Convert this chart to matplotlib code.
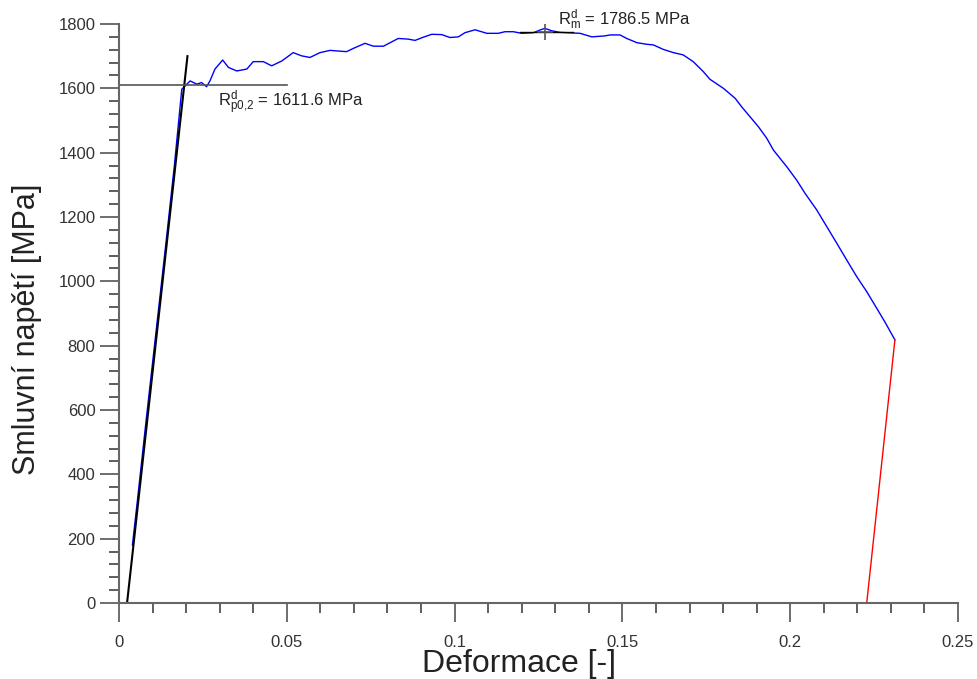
import numpy as np
import matplotlib.pyplot as plt
from matplotlib.ticker import MultipleLocator

plt.rcParams['font.family'] = ['Liberation Sans', 'DejaVu Sans']
plt.rcParams['mathtext.fontset'] = 'custom'
plt.rcParams['mathtext.rm'] = 'Liberation Sans'
plt.rcParams['mathtext.it'] = 'Liberation Sans'

# zkouska tahem - odectene hodnoty
eps = [0.0040, 0.0055, 0.0080, 0.0110, 0.0140, 0.0165, 0.0178, 0.0187,
       0.0212, 0.0232, 0.0246, 0.0261, 0.0271, 0.0286, 0.0309, 0.0326,
       0.0351, 0.0381, 0.0400, 0.0430, 0.0455, 0.0485, 0.0519, 0.0544,
       0.0569, 0.0599, 0.0629, 0.0653, 0.0678, 0.0698, 0.0733, 0.0758,
       0.0788, 0.0808, 0.0832, 0.0862, 0.0882, 0.0907, 0.0932, 0.0962,
       0.0986, 0.1011, 0.1031, 0.1061, 0.1096, 0.1130, 0.1150, 0.1175,
       0.1200, 0.1235, 0.1254, 0.1269, 0.1289, 0.1314, 0.1374, 0.1409,
       0.1448, 0.1463, 0.1493, 0.1513, 0.1543, 0.1572, 0.1592, 0.1622,
       0.1652, 0.1681, 0.1711, 0.1741, 0.1761, 0.1801, 0.1836, 0.1855,
       0.1880, 0.1905, 0.1930, 0.1950, 0.1990, 0.2019, 0.2044, 0.2079,
       0.2109, 0.2139, 0.2168, 0.2198, 0.2228, 0.2258, 0.2282, 0.2312]
sigma = [180, 320, 560, 840, 1120, 1360, 1500, 1597,
         1623, 1613, 1618, 1605, 1623, 1660, 1688, 1665,
         1654, 1660, 1683, 1683, 1670, 1685, 1711, 1701,
         1696, 1711, 1718, 1716, 1714, 1724, 1740, 1731,
         1731, 1742, 1755, 1753, 1749, 1759, 1768, 1767,
         1758, 1760, 1773, 1782, 1771, 1771, 1776, 1776,
         1771, 1773, 1781, 1786.5, 1779, 1774, 1771, 1760,
         1763, 1766, 1766, 1755, 1742, 1737, 1735, 1721,
         1711, 1704, 1683, 1652, 1628, 1600, 1569, 1543,
         1512, 1481, 1445, 1408, 1356, 1315, 1274, 1222,
         1170, 1118, 1067, 1015, 968, 916, 874, 818]

# odlehceni po lomu
eps_unl = [0.2312, 0.2228]
sigma_unl = [818, 0]

# primka pro Rp0,2
eps_off = [0.0024, 0.0204]
sigma_off = [0, 1700]

Rp = 1611.6
Rm = 1786.5
eps_Rm = 0.1269

fig = plt.figure(figsize=(9.78, 6.79), dpi=100)
ax = fig.add_axes([119/978, 76/679, 839/978, 579/679])

ax.plot(eps, sigma, color='#0000ff', lw=1.0)
ax.plot(eps_unl, sigma_unl, color='#ff0000', lw=1.0)
ax.plot(eps_off, sigma_off, color='black', lw=1.5)
ax.plot([0, 0.05], [Rp, Rp], color='#555555', lw=1.2)
ax.plot([0.1195, 0.1353], [Rm - 10, Rm - 10], color='black', lw=1.0)
ax.plot([eps_Rm], [Rm - 10], marker='+', ms=12, mew=1.2, color='#555555')

ax.text(0.0295, 1542, r'R$^{\mathrm{d}}_{\mathrm{p0{,}2}}$ = 1611.6 MPa',
        fontsize=12, color='#222222', va='baseline')
ax.text(0.1308, 1797, r'R$^{\mathrm{d}}_{\mathrm{m}}$ = 1786.5 MPa',
        fontsize=12, color='#222222', va='baseline')

ax.set_xlim(0, 0.25)
ax.set_ylim(0, 1800)
ax.xaxis.set_minor_locator(MultipleLocator(0.01))
ax.yaxis.set_major_locator(MultipleLocator(200))
ax.yaxis.set_minor_locator(MultipleLocator(40))
ax.set_xticks([0, 0.05, 0.1, 0.15, 0.2, 0.25])
ax.set_xticklabels(['0', '0.05', '0.1', '0.15', '0.2', '0.25'])

for s in ['top', 'right']:
    ax.spines[s].set_visible(False)
for s in ['left', 'bottom']:
    ax.spines[s].set_color('#666666')
    ax.spines[s].set_linewidth(1.5)

ax.tick_params(which='major', direction='out', length=14, width=1.2,
               color='#555555', labelsize=12, labelcolor='#333333')
ax.tick_params(which='minor', direction='out', length=7, width=1.1,
               color='#333333')
ax.tick_params(axis='x', which='major', pad=9)
ax.tick_params(axis='y', which='major', pad=3)

fig.text(519/978, 7/679, 'Deformace [-]', fontsize=23, color='#222222',
         ha='center', va='baseline')
fig.text(27/978, 1 - 329/679, 'Smluvní napětí [MPa]', fontsize=22,
         color='#222222', rotation=90, ha='center', va='center')

fig.savefig('out.png', dpi=100)
